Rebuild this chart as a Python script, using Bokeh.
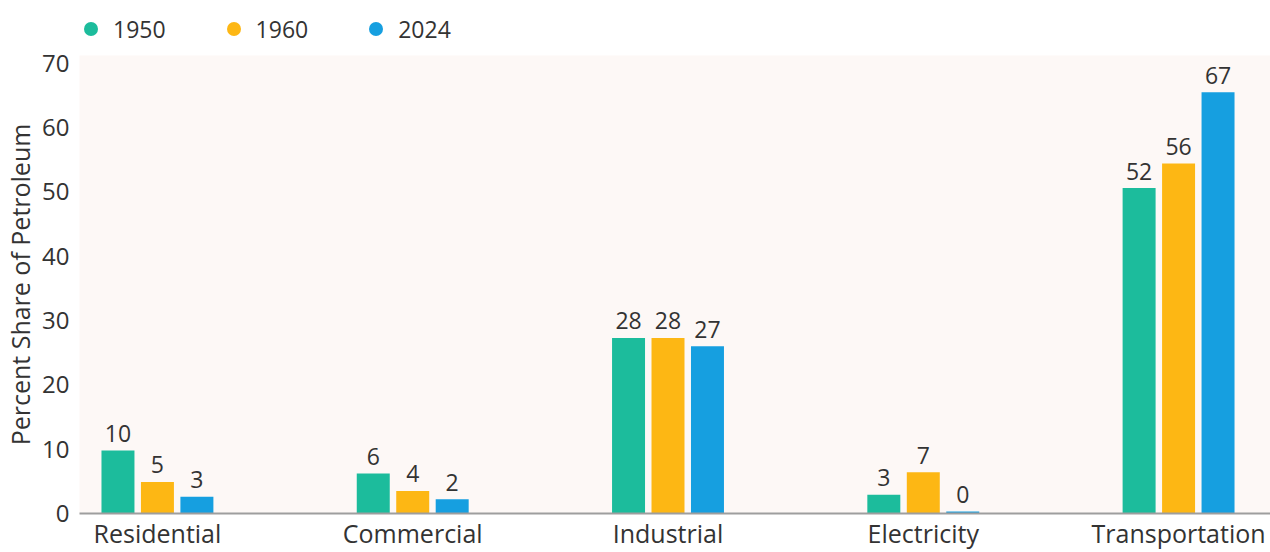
from bokeh.plotting import figure
from bokeh.layouts import column
from bokeh.models import ColumnDataSource, Range1d, FixedTicker, Legend, LegendItem
from bokeh.transform import dodge
from bokeh.embed import file_html
from bokeh.resources import INLINE
from bokeh.core.properties import value

# ---- data ----
categories = ["Residential", "Commercial", "Industrial", "Electricity", "Transportation"]
years = ["1950", "1960", "2024"]
share_1950 = [9.8, 6.2, 27.3, 2.9, 50.6]
share_1960 = [4.9, 3.5, 27.3, 6.4, 54.4]
share_2024 = [2.6, 2.2, 26.0, 0.3, 65.5]
labels_1950 = ["10", "6", "28", "3", "52"]
labels_1960 = ["5", "4", "28", "7", "56"]
labels_2024 = ["3", "2", "27", "0", "67"]
y_ticks = [0, 10, 20, 30, 40, 50, 60, 70]

colors = ["#1CBC9C", "#FDB714", "#169FE0"]
FONT = "Open Sans"
TXT = "#333333"

idx = list(range(len(categories)))
src = ColumnDataSource(dict(
    x=idx,
    v1950=share_1950, v1960=share_1960, v2024=share_2024,
    l1950=labels_1950, l1960=labels_1960, l2024=labels_2024,
))

# ---- main chart ----
p = figure(width=1270, height=508, output_backend="svg", toolbar_location=None,
           x_range=Range1d(-0.3053, 4.3601), y_range=Range1d(0, 71.2),
           min_border_left=78, min_border_right=0, min_border_top=11, min_border_bottom=39)
p.background_fill_color = "#FDF8F6"
p.border_fill_color = "white"
p.outline_line_color = None
p.grid.visible = False

offsets = [-0.1546, 0.0, 0.1546]
for year, off, color in zip(years, offsets, colors):
    xs = dodge("x", off, range=p.x_range)
    p.vbar(x=xs, top="v" + year, width=0.1292, source=src,
           fill_color=color, line_color=None)
    p.text(x=xs, y="v" + year, text="l" + year, source=src,
           text_align="center", text_baseline="alphabetic", y_offset=-17,
           text_font=value(FONT), text_font_size="23px", text_color=TXT)

# x axis
p.xaxis.ticker = FixedTicker(ticks=idx)
p.xaxis.major_label_overrides = {i: c for i, c in enumerate(categories)}
p.xaxis.major_tick_line_color = None
p.xaxis.major_tick_out = 0
p.xaxis.major_tick_in = 0
p.xaxis.minor_tick_line_color = None
p.xaxis.minor_tick_out = 0
p.xaxis.axis_line_color = "#9E9E9E"
p.xaxis.axis_line_width = 2
p.xaxis.major_label_text_font = FONT
p.xaxis.major_label_text_font_size = "25px"
p.xaxis.major_label_text_color = TXT
p.xaxis.major_label_standoff = 2

# y axis
p.yaxis.ticker = FixedTicker(ticks=y_ticks)
p.yaxis.axis_line_color = None
p.yaxis.major_tick_line_color = None
p.yaxis.major_tick_out = 0
p.yaxis.major_tick_in = 0
p.yaxis.minor_tick_line_color = None
p.yaxis.minor_tick_out = 0
p.yaxis.major_label_text_font = FONT
p.yaxis.major_label_text_font_size = "24px"
p.yaxis.major_label_text_color = TXT
p.yaxis.major_label_standoff = 10
p.yaxis.axis_label = "Percent Share of Petroleum"
p.yaxis.axis_label_text_font = FONT
p.yaxis.axis_label_text_font_size = "25px"
p.yaxis.axis_label_text_font_style = "normal"
p.yaxis.axis_label_text_color = TXT
p.yaxis.axis_label_standoff = 2

# ---- legend strip above the chart (its range shows none of the points) ----
lf = figure(width=1270, height=44, output_backend="svg", toolbar_location=None,
            x_axis_type=None, y_axis_type=None,
            x_range=Range1d(-0.3053, 4.3601), y_range=Range1d(-2, -1),
            min_border=0)
lf.grid.visible = False
lf.outline_line_color = None
lf.background_fill_color = "white"
lf.border_fill_color = "white"

items = []
for year, color in zip(years, colors):
    r = lf.scatter(x="x", y="v" + year, source=src, marker="circle",
                   fill_color=color, line_color=None)
    items.append(LegendItem(label=year, renderers=[r]))

legend = Legend(items=items, orientation="horizontal", location=(-6, -2),
                glyph_width=35, glyph_height=35, label_standoff=5, spacing=50,
                padding=0, margin=0, border_line_color=None, background_fill_alpha=0,
                label_text_font=FONT, label_text_font_size="23px",
                label_text_color=TXT)
lf.add_layout(legend)

open("out.html", "w").write(file_html(column(lf, p, spacing=0), INLINE))
